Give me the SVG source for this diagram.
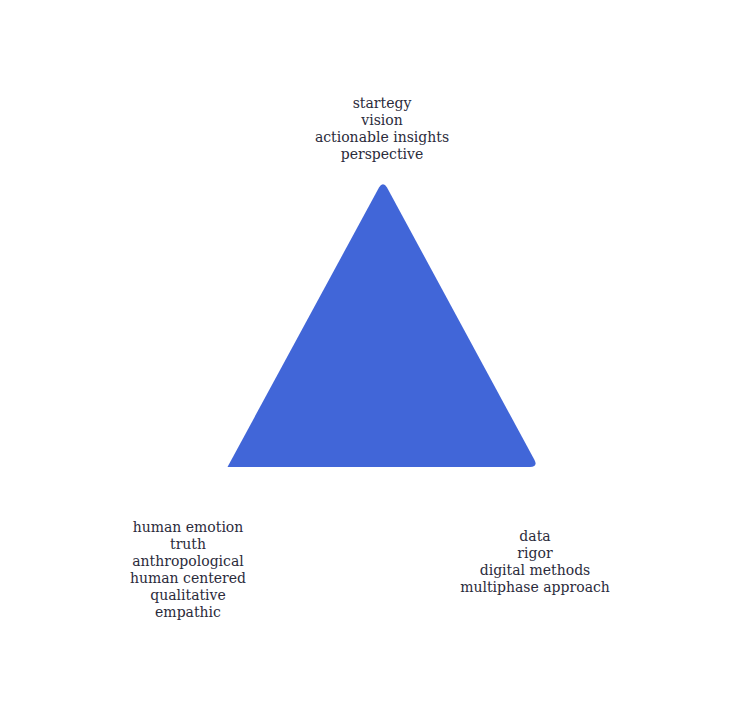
<svg xmlns="http://www.w3.org/2000/svg" width="750" height="728" viewBox="0 0 750 728">
<style>
.lbl{font-family:"DejaVu Serif","Liberation Serif",serif;font-size:14px;fill:#2b2b3b;text-anchor:middle}
</style>
<rect width="750" height="728" fill="#ffffff"/>
<g id="triangle">
<path d="M 227.5 467 L 379 187.5 Q 383 181 387 187.5 L 534.5 460 Q 538 467 530 467 Z" fill="#4166d8"/>
</g>
<g id="top-label">
<text class="lbl" x="382" y="108">startegy</text>
<text class="lbl" x="382" y="125">vision</text>
<text class="lbl" x="382" y="142">actionable insights</text>
<text class="lbl" x="382" y="159">perspective</text>
</g>
<g id="left-label">
<text class="lbl" x="188" y="532">human emotion</text>
<text class="lbl" x="188" y="549">truth</text>
<text class="lbl" x="188" y="566">anthropological</text>
<text class="lbl" x="188" y="583">human centered</text>
<text class="lbl" x="188" y="600">qualitative</text>
<text class="lbl" x="188" y="617">empathic</text>
</g>
<g id="right-label">
<text class="lbl" x="535" y="541">data</text>
<text class="lbl" x="535" y="558">rigor</text>
<text class="lbl" x="535" y="575">digital methods</text>
<text class="lbl" x="535" y="592">multiphase approach</text>
</g>
</svg>
